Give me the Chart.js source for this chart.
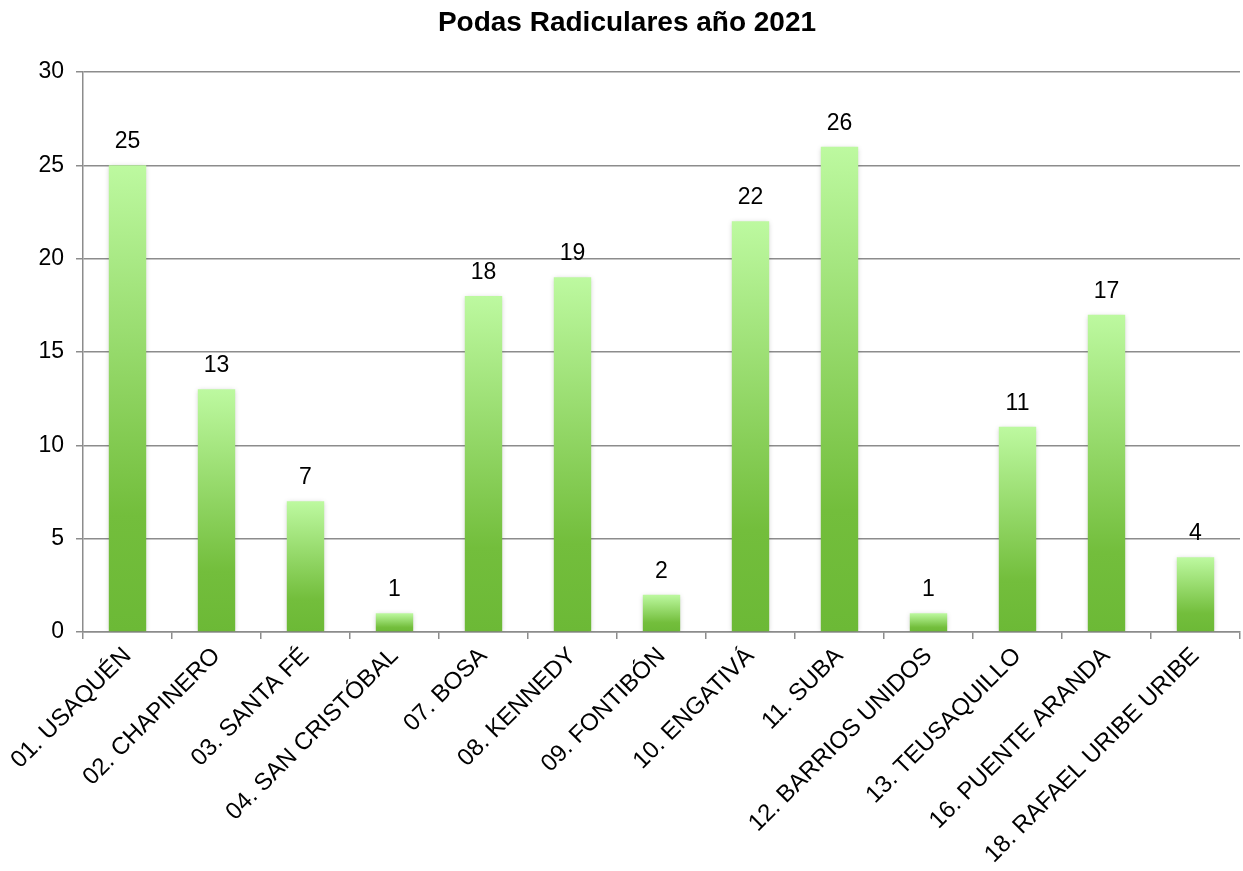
<!DOCTYPE html>
<html>
<head>
<meta charset="utf-8">
<script src="https://cdn.jsdelivr.net/npm/chart.js@4.4.1/dist/chart.umd.min.js"></script>
<style>
  html, body { margin: 0; padding: 0; background: #fff; }
  #wrap { width: 1243px; height: 871px; }
</style>
</head>
<body>
<div id="wrap"><canvas id="chart"></canvas></div>
<script>
const categories = [
  '01. USAQUÉN', '02. CHAPINERO', '03. SANTA FÉ', '04. SAN CRISTÓBAL',
  '07. BOSA', '08. KENNEDY', '09. FONTIBÓN', '10. ENGATIVÁ', '11. SUBA',
  '12. BARRIOS UNIDOS', '13. TEUSAQUILLO', '16. PUENTE ARANDA', '18. RAFAEL URIBE URIBE'
];
const podas = [25, 13, 7, 1, 18, 19, 2, 22, 26, 1, 11, 17, 4];
const yMin = 0, yMax = 30, yStep = 5;
const titleText = 'Podas Radiculares año 2021';

const FONT = 'Arial, "Liberation Sans", sans-serif';
const GRID = '#8c8c8c';

// each bar gets its own light-to-dark gradient
function barGradient(ctx) {
  const chart = ctx.chart;
  const y = chart.scales.y;
  if (!y || ctx.dataIndex === undefined) return '#8fd060';
  const v = podas[ctx.dataIndex];
  const top = y.getPixelForValue(v);
  const bottom = y.getPixelForValue(0);
  if (!isFinite(top) || bottom - top < 1) return '#8fd060';
  const g = chart.ctx.createLinearGradient(0, top, 0, bottom);
  g.addColorStop(0, '#bdf9a0');
  g.addColorStop(0.75, '#73be3c');
  g.addColorStop(1, '#6cb936');
  return g;
}

const barExtras = {
  id: 'barExtras',
  beforeDatasetsDraw(chart) {
    const c = chart.ctx;
    c.save();
    c.shadowColor = 'rgba(0,0,0,0.22)';
    c.shadowBlur = 5;
    c.shadowOffsetX = 0;
    c.shadowOffsetY = 1;
  },
  afterDatasetsDraw(chart) {
    const c = chart.ctx;
    c.restore();
    const meta = chart.getDatasetMeta(0);
    c.save();
    c.font = '23px ' + FONT;
    c.fillStyle = '#000';
    c.textAlign = 'center';
    c.textBaseline = 'alphabetic';
    meta.data.forEach((bar, i) => {
      c.fillText(String(podas[i]), bar.x, bar.y - 17);
    });
    // title, centred a little right of the canvas middle like the original
    c.font = 'bold 28px ' + FONT;
    c.textBaseline = 'middle';
    c.fillText(titleText, 627, 23);
    c.restore();
  }
};

new Chart(document.getElementById('chart'), {
  type: 'bar',
  data: {
    labels: categories,
    datasets: [{
      label: 'Podas',
      data: podas,
      backgroundColor: barGradient,
      borderWidth: 0,
      barPercentage: 0.42,
      categoryPercentage: 1
    }]
  },
  options: {
    responsive: true,
    maintainAspectRatio: false,
    animation: false,
    layout: { padding: { left: 0, right: 3, top: 72, bottom: 0 } },
    plugins: {
      legend: { display: false },
      tooltip: { enabled: false },
      title: { display: false }
    },
    scales: {
      x: {
        grid: { drawOnChartArea: false, drawTicks: true, tickLength: 7, color: GRID, lineWidth: 1.5 },
        border: { color: GRID, width: 1.5 },
        ticks: {
          color: '#000',
          font: { family: FONT, size: 24 },
          maxRotation: 45,
          minRotation: 45,
          autoSkip: false,
          padding: 3
        },
        afterFit(scale) { scale.height = 239; }
      },
      y: {
        min: yMin,
        max: yMax,
        grid: { color: GRID, lineWidth: 1.5, tickLength: 7 },
        border: { color: GRID, width: 1.5 },
        ticks: {
          stepSize: yStep,
          color: '#000',
          font: { family: FONT, size: 23 },
          padding: 12
        },
        afterFit(scale) { scale.width = 83; }
      }
    }
  },
  plugins: [barExtras]
});
</script>
</body>
</html>
